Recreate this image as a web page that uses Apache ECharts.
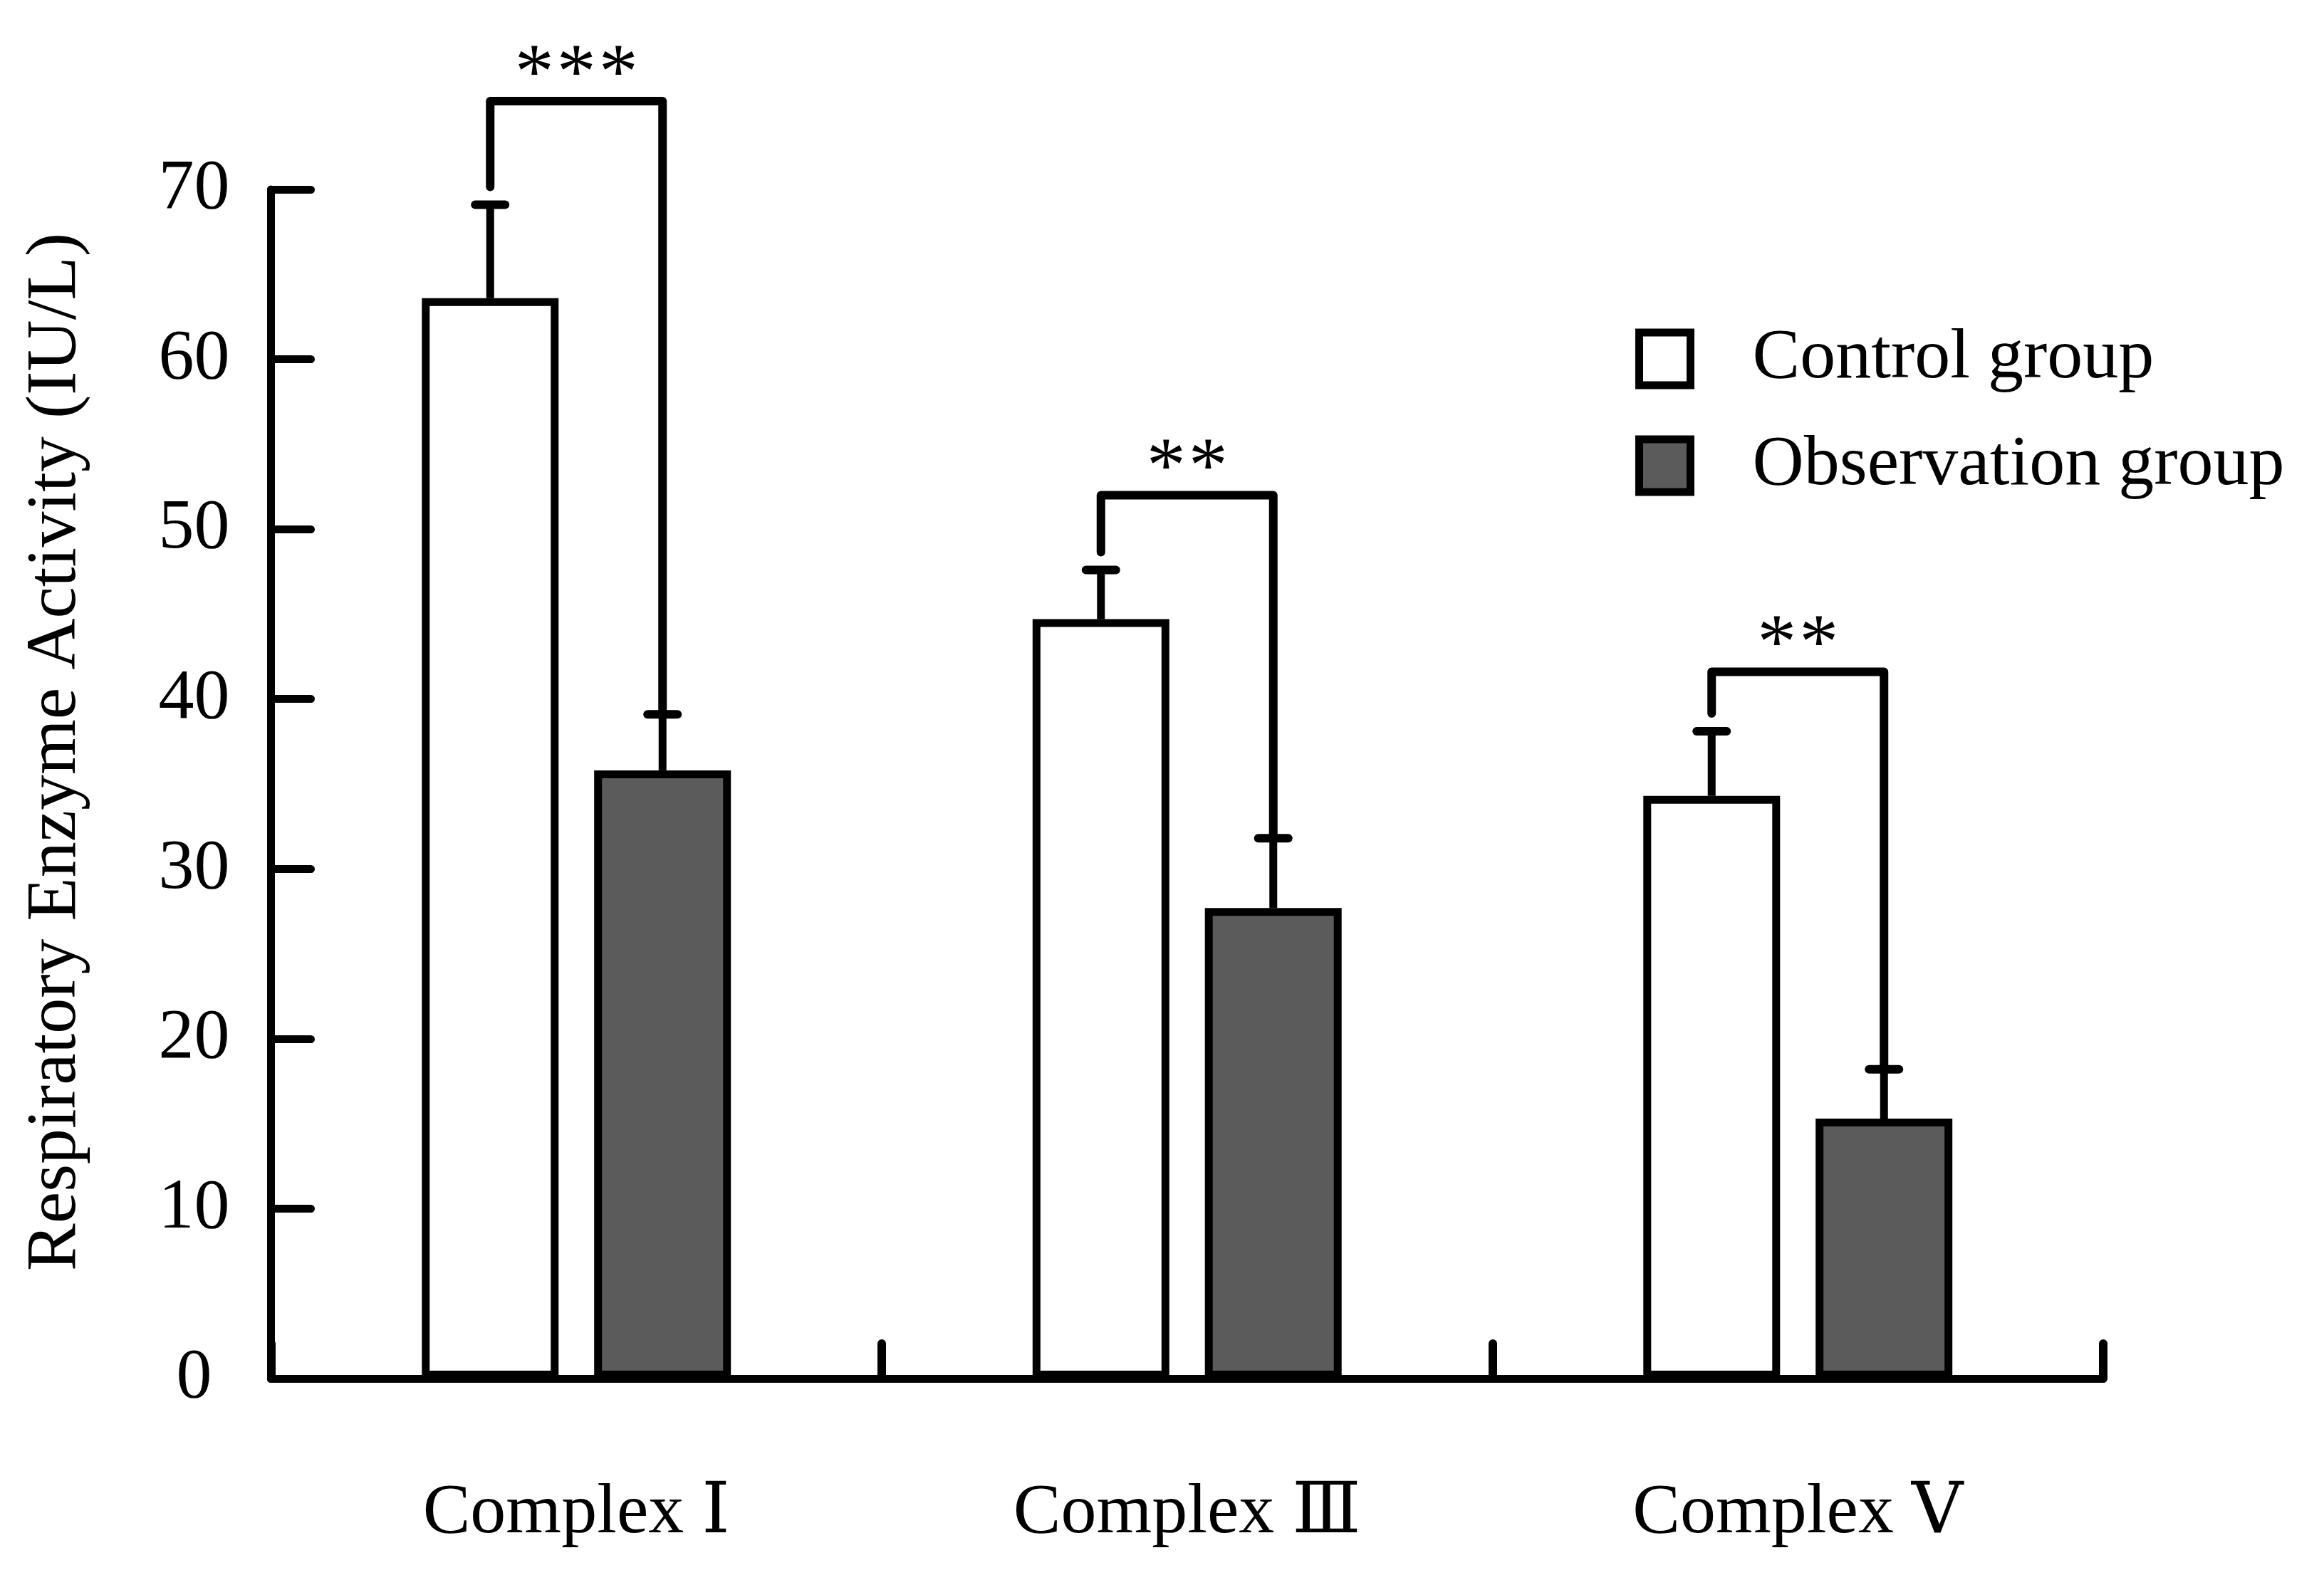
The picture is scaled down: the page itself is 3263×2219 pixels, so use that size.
<!DOCTYPE html>
<html>
<head>
<meta charset="utf-8">
<script src="https://cdn.jsdelivr.net/npm/echarts@6/dist/echarts.min.js"></script>
<style>
html,body{margin:0;padding:0;background:#fff;}
#chart{width:3263px;height:2219px;}
</style>
</head>
<body>
<div id="chart"></div>
<script>
// ---- data ----
var categories = ['Complex \u2160', 'Complex \u2162', 'Complex \u2164'];
var seriesNames = ['Control group', 'Observation group'];
var controlMean = [63.6, 44.7, 34.3];
var controlSD = [5.5, 2.9, 3.8];
var observationMean = [35.8, 27.7, 15.3];
var observationSD = [3.3, 4.1, 2.9];
var bracketLevel = [75.2, 52.0, 41.6];
var significance = ['***', '**', '**'];
var yTicks = [0, 10, 20, 30, 40, 50, 60, 70];

// ---- style ----
var FONT = "'Liberation Serif', 'DejaVu Serif', 'Noto Sans CJK SC', serif";
var BAR_W = 192;
var BAR_OFFSET = 121;
var LINE_W = 11;

var chart = echarts.init(document.getElementById('chart'), null, {renderer: 'canvas'});

function errData(mean, sd) {
  return mean.map(function (m, i) { return [i, m, m + sd[i]]; });
}

function errorRender(offset) {
  return function (params, api) {
    var i = api.value(0);
    var base = api.coord([i, api.value(1)]);
    var top = api.coord([i, api.value(2)]);
    var x = base[0] + offset;
    return {
      type: 'group',
      children: [
        {type: 'line', shape: {x1: x, y1: base[1], x2: x, y2: top[1]},
         style: {stroke: '#000', lineWidth: LINE_W, lineCap: 'butt'}},
        {type: 'line', shape: {x1: x - 21, y1: top[1], x2: x + 21, y2: top[1]},
         style: {stroke: '#000', lineWidth: 12, lineCap: 'round'}}
      ]
    };
  };
}

var bracketData = categories.map(function (c, i) {
  return [i, bracketLevel[i], controlMean[i] + controlSD[i], observationMean[i] + observationSD[i]];
});

function bracketRender(params, api) {
  var i = api.value(0);
  var lvl = api.coord([i, api.value(1)]);
  var cTop = api.coord([i, api.value(2)]);
  var oTop = api.coord([i, api.value(3)]);
  var xl = lvl[0] - BAR_OFFSET, xr = lvl[0] + BAR_OFFSET;
  var children = [{
    type: 'polyline',
    shape: {points: [[xl, cTop[1] - 25], [xl, lvl[1]], [xr, lvl[1]], [xr, oTop[1]]]},
    style: {stroke: '#000', fill: null, lineWidth: 12, lineJoin: 'round', lineCap: 'round'}
  }];
  var s = significance[params.dataIndex];
  var n = s.length;
  for (var k = 0; k < n; k++) {
    children.push({
      type: 'text',
      style: {
        text: '*', x: lvl[0] + (k - (n - 1) / 2) * 59, y: lvl[1] - 34,
        font: '110px ' + FONT, fill: '#000', align: 'center', verticalAlign: 'middle'
      }
    });
  }
  return {type: 'group', children: children};
}

var option = {
  animation: false,
  backgroundColor: '#fff',
  grid: {left: 380.5, right: 310, top: 266, bottom: 283, containLabel: false},
  legend: {
    orient: 'vertical',
    left: 2291,
    top: 449,
    itemWidth: 72,
    itemHeight: 74,
    itemGap: 50,
    icon: 'rect',
    data: seriesNames,
    itemStyle: {borderWidth: LINE_W, borderColor: '#000'},
    textStyle: {fontFamily: FONT, fontSize: 100, color: '#000', padding: [0, 0, 0, 82]}
  },
  xAxis: {
    type: 'category',
    data: categories,
    axisLine: {show: true, lineStyle: {color: '#000', width: LINE_W, cap: 'round'}},
    axisTick: {show: true, inside: true, length: 49, lineStyle: {color: '#000', width: 12, cap: 'round'}},
    axisLabel: {fontFamily: FONT, fontSize: 100, color: '#000', margin: 140},
    splitLine: {show: false}
  },
  yAxis: {
    type: 'value',
    min: yTicks[0],
    max: yTicks[yTicks.length - 1],
    interval: yTicks[1] - yTicks[0],
    name: 'Respiratory Enzyme Activity (IU/L)',
    nameLocation: 'middle',
    nameGap: 252,
    nameTextStyle: {fontFamily: FONT, fontSize: 100, color: '#000', padding: [0, 0, 0, 90]},
    axisLine: {show: true, lineStyle: {color: '#000', width: LINE_W, cap: 'round'}},
    axisTick: {show: true, inside: true, length: 56, lineStyle: {color: '#000', width: LINE_W, cap: 'round'}},
    axisLabel: {fontFamily: FONT, fontSize: 100, color: '#000', align: 'center', margin: 108},
    splitLine: {show: false}
  },
  series: [
    {
      name: seriesNames[0], type: 'bar', data: controlMean,
      barWidth: BAR_W, barGap: '26%',
      itemStyle: {color: '#ffffff', borderColor: '#000', borderWidth: LINE_W},
      z: 2
    },
    {
      name: seriesNames[1], type: 'bar', data: observationMean,
      barWidth: BAR_W, barGap: '26%',
      itemStyle: {color: '#5b5b5b', borderColor: '#000', borderWidth: LINE_W},
      z: 2
    },
    {
      type: 'custom', data: errData(controlMean, controlSD),
      renderItem: errorRender(-BAR_OFFSET), z: 3, silent: true,
      encode: {x: 0, y: [1, 2]}
    },
    {
      type: 'custom', data: errData(observationMean, observationSD),
      renderItem: errorRender(BAR_OFFSET), z: 3, silent: true,
      encode: {x: 0, y: [1, 2]}
    },
    {
      type: 'custom', data: bracketData,
      renderItem: bracketRender, z: 4, silent: true,
      encode: {x: 0, y: [1, 2, 3]}
    }
  ]
};
chart.setOption(option);
</script>
</body>
</html>
